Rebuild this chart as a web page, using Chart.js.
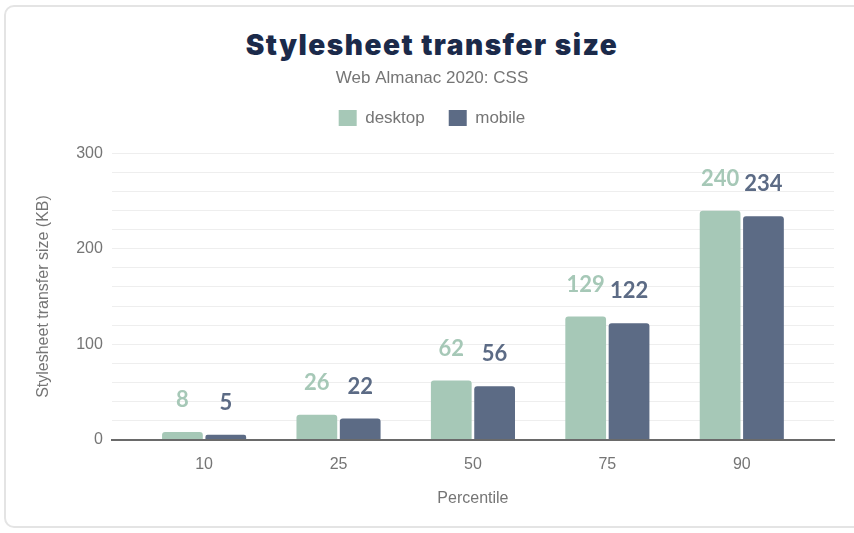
<!DOCTYPE html>
<html><head><meta charset="utf-8">
<script src="https://cdn.jsdelivr.net/npm/chart.js@4/dist/chart.umd.min.js"></script>
<style>
html,body{margin:0;padding:0;background:#fff;overflow:hidden;}
#wrap{position:absolute;left:0;top:0;width:854px;height:533px;}
#frame{position:absolute;left:4px;top:5px;width:870px;height:523px;border:2px solid #e4e4e4;border-radius:10px;box-sizing:border-box;}
#title{position:absolute;left:0;top:27px;width:864px;text-align:center;font:900 28px Inter, Lato, sans-serif;letter-spacing:1.5px;color:#1b2a4a;line-height:36px;}
canvas{position:absolute;left:0;top:0;}
</style></head>
<body>
<div id="wrap"><div id="frame"></div><div id="title"></div><canvas id="c" width="854" height="533"></canvas></div>
<script>
const categories = ['10','25','50','75','90'];
const desktopValues = [8, 26, 62, 129, 240];
const mobileValues = [5, 22, 56, 122, 234];
const seriesNames = ['desktop','mobile'];
const yTicks = [0, 100, 200, 300];
const chartTitle = 'Stylesheet transfer size';
const chartSubtitle = 'Web Almanac 2020: CSS';
const yTitle = 'Stylesheet transfer size (KB)';
const xTitle = 'Percentile';

const desktopColor = '#a6c8b7';
const mobileColor = '#5c6b85';
const xEdge = 0.686; // extra room on each side of the category band

document.getElementById('title').textContent = chartTitle;

const labelPlugin = {
  id: 'valueLabels',
  afterDatasetsDraw(chart) {
    const ctx = chart.ctx;
    ctx.save();
    ctx.font = 'bold 22px Lato, "Liberation Sans", sans-serif';
    ctx.textAlign = 'center';
    ctx.textBaseline = 'middle';
    chart.data.datasets.forEach((ds, di) => {
      const meta = chart.getDatasetMeta(di);
      meta.data.forEach((bar, i) => {
        ctx.fillStyle = ds.backgroundColor;
        ctx.fillText(String(ds.data[i].y), bar.x, bar.y - 32);
      });
    });
    ctx.restore();
  }
};

const legendGap = {
  id: 'legendGap',
  afterInit(chart) {
    const lg = chart.legend;
    if (!lg) return;
    const orig = lg.fit;
    lg.fit = function () { orig.call(this); this.height += 17; };
  }
};

Chart.defaults.font.family = '"Liberation Sans", Arial, sans-serif';
Chart.defaults.color = '#757575';

const toPoints = (arr) => arr.map((v, i) => ({ x: i, y: v }));

new Chart(document.getElementById('c'), {
  type: 'bar',
  data: {
    datasets: [
      { label: seriesNames[0], data: toPoints(desktopValues), backgroundColor: desktopColor, borderRadius: 3, borderSkipped: 'bottom', categoryPercentage: 0.645, barPercentage: 0.94 },
      { label: seriesNames[1], data: toPoints(mobileValues), backgroundColor: mobileColor, borderRadius: 3, borderSkipped: 'bottom', categoryPercentage: 0.645, barPercentage: 0.94 }
    ]
  },
  options: {
    responsive: false,
    animation: false,
    devicePixelRatio: 1,
    layout: { padding: { left: 30, right: 20, top: 62, bottom: 21 } },
    plugins: {
      title: { display: false },
      subtitle: { display: true, text: chartSubtitle, color: '#757575', font: { size: 17 }, padding: { top: 6, bottom: -3 } },
      legend: { display: true, labels: { boxWidth: 18, boxHeight: 16, color: '#757575', font: { size: 17 }, padding: 24 } },
      tooltip: { enabled: false }
    },
    scales: {
      x: {
        type: 'linear',
        offset: false,
        min: -xEdge,
        max: categories.length - 1 + xEdge,
        afterBuildTicks: (axis) => { axis.ticks = axis.ticks.filter(t => Number.isInteger(t.value) && categories[t.value] !== undefined); },
        grid: { display: false },
        border: { display: true, color: '#6a6a6a', width: 2 },
        ticks: { stepSize: 1, autoSkip: false, maxRotation: 0, color: '#757575', font: { size: 16 }, padding: 7,
          callback: (v) => (Number.isInteger(v) && categories[v] !== undefined) ? categories[v] : '' },
        title: { display: true, text: xTitle, color: '#757575', font: { size: 16 }, padding: { top: 8 } }
      },
      y: {
        min: 0, max: 300,
        grid: { color: '#eeeeee', drawTicks: false, lineWidth: 1 },
        border: { display: false },
        ticks: { stepSize: 20, autoSkip: false, color: '#757575', font: { size: 16 }, padding: 9,
          callback: (v) => yTicks.includes(v) ? String(v) : '' },
        title: { display: true, text: yTitle, color: '#757575', font: { size: 16 }, padding: { bottom: 14 } }
      }
    }
  },
  plugins: [labelPlugin, legendGap]
});
</script>
</body></html>
